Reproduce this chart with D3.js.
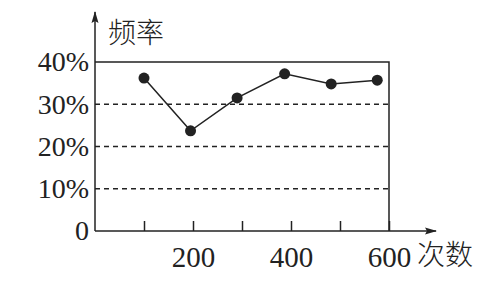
<!DOCTYPE html>
<html>
<head>
<meta charset="utf-8">
<script src="https://cdn.jsdelivr.net/npm/d3@7"></script>
<style>
  body { margin: 0; background: #fff; }
  .num { font-family: "Liberation Serif", "DejaVu Serif", serif; }
  .cjk { font-family: "Noto Sans CJK SC", sans-serif; font-weight: 300; }
</style>
</head>
<body>
<script>
  // trials and their frequency in %
  const counts = [100, 195, 290, 387, 482, 576];
  const freq = [36.2, 23.7, 31.5, 37.2, 34.8, 35.7];
  const xTicks = [100, 200, 300, 400, 500, 600];
  const xLabels = [200, 400, 600];
  const yTicks = [0, 10, 20, 30, 40];
  const gridLines = [10, 20, 30];

  const width = 484, height = 293;
  const x0 = 95, x1 = 389, y0 = 231, y1 = 62;

  const svg = d3.select('body').append('svg')
    .attr('width', width)
    .attr('height', height);

  const x = d3.scaleLinear().domain([0, 600]).range([x0, x1]);
  const y = d3.scaleLinear().domain([0, 40]).range([y0, y1]);

  svg.append('defs').append('marker')
    .attr('id', 'arr')
    .attr('viewBox', '0 0 12 10')
    .attr('refX', 11).attr('refY', 5)
    .attr('markerWidth', 12).attr('markerHeight', 10)
    .attr('markerUnits', 'userSpaceOnUse')
    .attr('orient', 'auto')
    .append('path')
    .attr('d', 'M0,1.5 L12,5 L0,8.5 L2,5 Z')
    .attr('fill', '#222');

  // dashed grid
  svg.selectAll('line.grid').data(gridLines).enter()
    .append('line')
    .attr('x1', x0).attr('x2', x1)
    .attr('y1', d => y(d)).attr('y2', d => y(d))
    .attr('stroke', '#222')
    .attr('stroke-width', 1.3)
    .attr('stroke-dasharray', '5,4');

  // top and right border
  svg.append('path')
    .attr('d', `M${x0},${y(40)} H${x(600)} V${y0}`)
    .attr('fill', 'none')
    .attr('stroke', '#222')
    .attr('stroke-width', 1.5);

  // x axis
  const xAxis = d3.axisBottom(x)
    .tickValues(xTicks)
    .tickSize(-10)
    .tickFormat(d => xLabels.includes(d) ? d : '');
  const gx = svg.append('g')
    .attr('transform', `translate(0,${y0})`)
    .call(xAxis);
  gx.select('.domain').remove();
  gx.selectAll('line').attr('stroke', '#222').attr('stroke-width', 1.5);
  gx.selectAll('text')
    .attr('class', 'num')
    .attr('y', 36)
    .attr('dy', 0)
    .attr('font-size', 29)
    .attr('fill', '#222');

  svg.append('line')
    .attr('x1', x0).attr('x2', 436)
    .attr('y1', y0).attr('y2', y0)
    .attr('stroke', '#222').attr('stroke-width', 1.5)
    .attr('marker-end', 'url(#arr)');

  // y axis
  const yAxis = d3.axisLeft(y)
    .tickValues(yTicks)
    .tickSize(0)
    .tickPadding(6)
    .tickFormat(d => d === 0 ? '0' : d + '%');
  const gy = svg.append('g')
    .attr('transform', `translate(${x0},0)`)
    .call(yAxis);
  gy.select('.domain').remove();
  gy.selectAll('text')
    .attr('class', 'num')
    .attr('font-size', 28)
    .attr('fill', '#222');

  svg.append('line')
    .attr('x1', x0).attr('x2', x0)
    .attr('y1', y0).attr('y2', 12)
    .attr('stroke', '#222').attr('stroke-width', 1.5)
    .attr('marker-end', 'url(#arr)');

  // axis titles
  svg.append('text')
    .attr('class', 'cjk')
    .attr('x', 108).attr('y', 43)
    .attr('font-size', 28)
    .attr('fill', '#222')
    .text('频率');
  svg.append('text')
    .attr('class', 'cjk')
    .attr('x', 417).attr('y', 265)
    .attr('font-size', 28)
    .attr('fill', '#222')
    .text('次数');

  // line and points
  const pts = counts.map((c, i) => [c, freq[i]]);
  svg.append('path')
    .datum(pts)
    .attr('d', d3.line().x(d => x(d[0])).y(d => y(d[1])))
    .attr('fill', 'none')
    .attr('stroke', '#222')
    .attr('stroke-width', 1.5);

  svg.selectAll('circle').data(pts).enter()
    .append('circle')
    .attr('cx', d => x(d[0]))
    .attr('cy', d => y(d[1]))
    .attr('r', 5.5)
    .attr('fill', '#222');
</script>
</body>
</html>
